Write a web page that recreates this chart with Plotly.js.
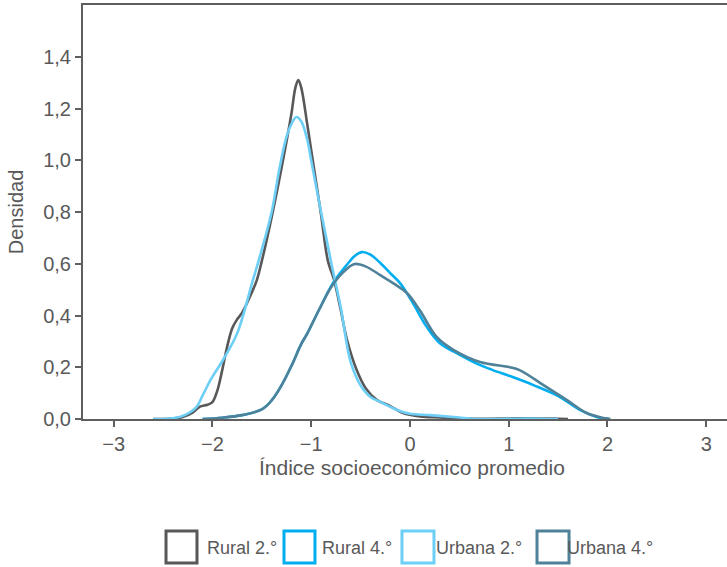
<!DOCTYPE html>
<html>
<head>
<meta charset="utf-8">
<script src="https://cdn.plot.ly/plotly-3.0.1.min.js"></script>
<style>
html,body{margin:0;padding:0;background:#fff;}
#chart{width:727px;height:567px;}
</style>
</head>
<body>
<div id="chart"></div>
<script>
// ---- data ----
const seriesNames = ["Rural 2.°", "Rural 4.°", "Urbana 2.°", "Urbana 4.°"];
const seriesColors = ["#58585a", "#00aeef", "#6dcff6", "#4f8299"];

const rural2X = [-2.6,-2.4,-2.3,-2.2,-2.13,-2.05,-2.0,-1.95,-1.9,-1.85,-1.8,-1.75,-1.7,-1.6,-1.55,-1.5,-1.4,-1.3,-1.2,-1.16,-1.13,-1.1,-1.04,-1.0,-0.9,-0.83,-0.77,-0.7,-0.64,-0.54,-0.45,-0.34,-0.2,-0.07,0.1,0.3,0.5,0.8,1.0,1.2,1.4,1.5,1.6];
const rural2Y = [0,0.002,0.008,0.025,0.047,0.055,0.065,0.11,0.19,0.28,0.35,0.385,0.41,0.49,0.537,0.61,0.78,0.97,1.18,1.28,1.31,1.28,1.14,1.04,0.79,0.61,0.54,0.42,0.31,0.19,0.12,0.075,0.05,0.023,0.01,0.006,0.003,0.001,0.002,0.003,0.002,0.001,0];

const urbana2X = [-2.6,-2.4,-2.28,-2.16,-2.1,-2.02,-1.89,-1.75,-1.59,-1.53,-1.4,-1.32,-1.25,-1.2,-1.15,-1.1,-1.04,-1.0,-0.9,-0.8,-0.7,-0.6,-0.5,-0.4,-0.3,-0.13,0.0,0.2,0.5,0.6,0.8,1.2,1.5];
const urbana2Y = [0,0.003,0.015,0.047,0.09,0.15,0.23,0.33,0.537,0.614,0.80,0.97,1.09,1.14,1.167,1.15,1.08,1.0,0.80,0.61,0.43,0.22,0.13,0.085,0.066,0.035,0.02,0.015,0.006,0.002,0,0.002,0];

const rural4X = [-2.1,-1.9,-1.7,-1.5,-1.4,-1.3,-1.2,-1.1,-1.04,-0.91,-0.78,-0.64,-0.56,-0.49,-0.4,-0.3,-0.2,-0.1,0.03,0.17,0.3,0.51,0.7,0.84,1.04,1.25,1.52,1.72,1.89,2.02];
const rural4Y = [0,0.005,0.015,0.037,0.072,0.13,0.205,0.29,0.33,0.43,0.525,0.595,0.63,0.645,0.635,0.603,0.564,0.525,0.448,0.356,0.294,0.247,0.21,0.189,0.162,0.131,0.085,0.035,0.008,0];

const urbana4X = [-2.1,-1.9,-1.7,-1.5,-1.4,-1.3,-1.2,-1.1,-1.04,-0.91,-0.78,-0.64,-0.56,-0.45,-0.3,-0.15,-0.03,0.1,0.27,0.44,0.71,1.01,1.11,1.38,1.59,1.79,1.96,2.03];
const urbana4Y = [0,0.005,0.015,0.037,0.072,0.13,0.205,0.29,0.33,0.43,0.52,0.58,0.599,0.59,0.556,0.52,0.487,0.42,0.317,0.267,0.22,0.20,0.189,0.124,0.073,0.023,0.004,0];

const xTickVals = [-3,-2,-1,0,1,2,3];
const yTickVals = [0,0.2,0.4,0.6,0.8,1.0,1.2,1.4];
const xTitle = "Índice socioeconómico promedio";
const yTitle = "Densidad";

const xs = [rural2X, rural4X, urbana2X, urbana4X];
const ys = [rural2Y, rural4Y, urbana2Y, urbana4Y];

const traces = seriesNames.map((n, i) => ({
  type: "scatter", mode: "lines", name: n,
  x: xs[i], y: ys[i],
  line: {color: seriesColors[i], width: 2.6, shape: "spline", smoothing: 1},
  showlegend: false, hoverinfo: "skip"
}));

// manual legend (open squares + labels)
const legBoxes = [[0.1289,0.1770],[0.3121,0.3602],[0.4953,0.5450],[0.7050,0.7547]];
const legTextX = [0.1894, 0.3680, 0.5450, 0.7484];
const shapes = legBoxes.map((b, i) => ({
  type: "rect", xref: "paper", yref: "paper",
  x0: b[0], x1: b[1], y0: -0.3478, y1: -0.2705,
  line: {color: seriesColors[i], width: 3}, fillcolor: "rgba(0,0,0,0)"
}));
const fam = "Liberation Sans, Arial, sans-serif";
const annotations = seriesNames.map((n, i) => ({
  xref: "paper", yref: "paper", x: legTextX[i], y: -0.3116,
  xanchor: "left", yanchor: "middle", showarrow: false, text: n,
  font: {family: fam, size: 18, color: "#595959"}
}));
annotations.push({
  xref: "paper", yref: "paper", x: 0.511, y: -0.118,
  xanchor: "center", yanchor: "middle", showarrow: false, text: xTitle,
  font: {family: fam, size: 21, color: "#595959"}
});

const tickFont = {family: fam, size: 20, color: "#595959"};

const layout = {
  width: 727, height: 567,
  margin: {l: 83, r: 0, t: 5, b: 148, pad: 0},
  paper_bgcolor: "#fff", plot_bgcolor: "#fff",
  separators: ", ",
  showlegend: false,
  font: tickFont,
  xaxis: {
    range: [-3.31, 3.21], tickvals: xTickVals,
    showgrid: false, zeroline: false,
    showline: true, mirror: true, linecolor: "#5f5f5f", linewidth: 2,
    ticks: "outside", ticklen: 6, tickwidth: 2, tickcolor: "#5f5f5f",
    tickfont: tickFont
  },
  yaxis: {
    range: [0, 1.6], tickvals: yTickVals, tickformat: ".1f",
    showgrid: false, zeroline: false,
    showline: true, linecolor: "#5f5f5f", linewidth: 2,
    ticks: "outside", ticklen: 6, tickwidth: 2, tickcolor: "#5f5f5f",
    tickfont: tickFont,
    title: {text: yTitle, font: {family: fam, size: 20, color: "#595959"}, standoff: 14}
  },
  shapes: shapes,
  annotations: annotations
};

Plotly.newPlot("chart", traces, layout, {staticPlot: true, displayModeBar: false});
</script>
</body>
</html>
